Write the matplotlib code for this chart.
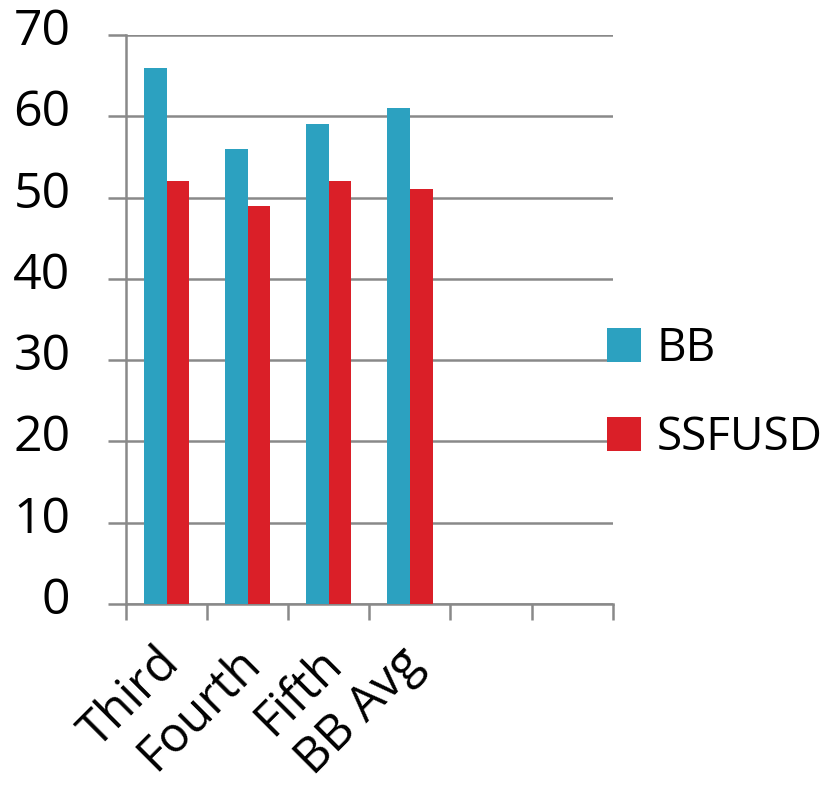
import matplotlib.pyplot as plt
import matplotlib.transforms as mtransforms
import numpy as np

plt.rcParams['font.family'] = ['Open Sans', 'DejaVu Sans']

categories = ['Third', 'Fourth', 'Fifth', 'BB Avg']
bb = [66, 56, 59, 61]
ssfusd = [52, 49, 52, 51]
n_slots = 6  # two empty slots on the right
yticks = [0, 10, 20, 30, 40, 50, 60, 70]

blue = '#2CA1C0'
red = '#DA1F28'
grey = '#898989'

fig = plt.figure(figsize=(8.29, 7.87), dpi=100)
ax = fig.add_axes([0.152, 0.2325, 0.587, 0.723])

x = np.arange(len(categories))
w = 0.28
ax.bar(x - w / 2, bb, w, color=blue, label='BB', zorder=3)
ax.bar(x + w / 2, ssfusd, w, color=red, label='SSFUSD', zorder=3)

ax.set_xlim(-0.5, n_slots - 0.5)
ax.set_ylim(0, 70)

# grid
for v in yticks:
    ax.axhline(v, color=grey, lw=1.8, zorder=1)

for s in ['top', 'right']:
    ax.spines[s].set_visible(False)
ax.spines['left'].set_color(grey)
ax.spines['left'].set_linewidth(1.8)
ax.spines['bottom'].set_color(grey)
ax.spines['bottom'].set_linewidth(1.8)

ax.set_yticks(yticks)
ax.set_yticklabels([str(v) for v in yticks], fontsize=36)
ax.tick_params(axis='y', length=13, width=1.8, color=grey, pad=27)
yshift = mtransforms.ScaledTranslation(0, -10 / 100, fig.dpi_scale_trans)
for t in ax.get_yticklabels():
    t.set_verticalalignment('baseline')
    t.set_transform(t.get_transform() + yshift)

ax.set_xticks(x)
ax.set_xticklabels(categories, fontsize=35, rotation=45, ha='right',
                   rotation_mode='anchor')
ax.tick_params(axis='x', length=0, pad=25)
shift = mtransforms.ScaledTranslation(-12 / 100, 0, fig.dpi_scale_trans)
for t in ax.get_xticklabels():
    t.set_transform(t.get_transform() + shift)
ax.set_xticks(np.arange(n_slots + 1) - 0.5, minor=True)
ax.tick_params(axis='x', which='minor', length=11.5, width=1.8, color=grey)

fig.legend(loc='center left', bbox_to_anchor=(0.732, 0.5), frameon=False,
           fontsize=33, handlelength=0.74, handleheight=0.74,
           labelspacing=0.94, handletextpad=0.35, borderpad=0,
           borderaxespad=0)

plt.savefig('out.png', dpi=100)
